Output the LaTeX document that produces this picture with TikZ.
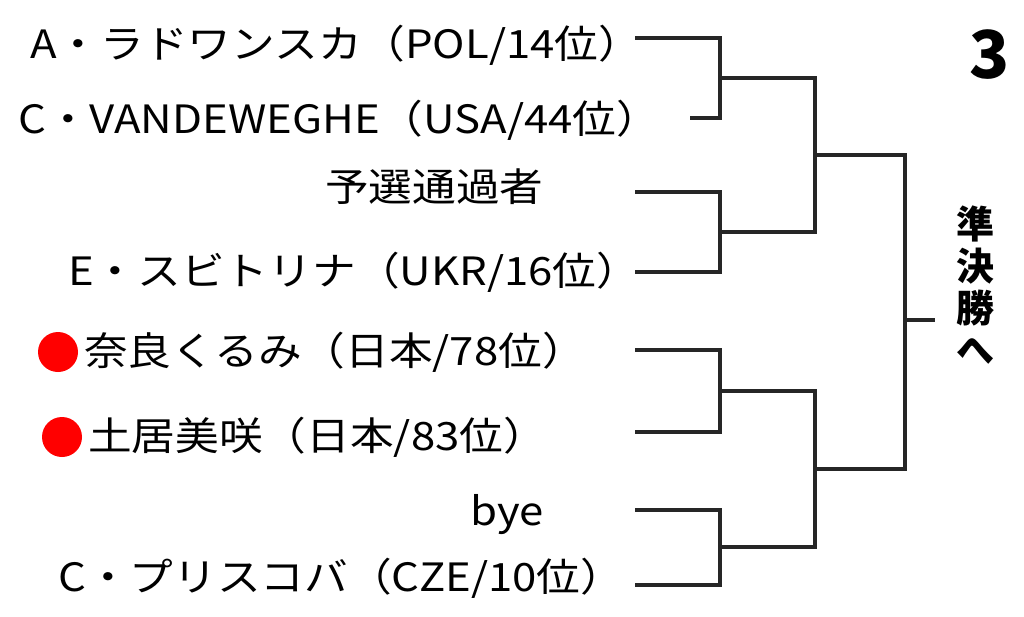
\documentclass[tikz,border=0pt]{standalone}
\usepackage{fontspec}
\setmainfont{Noto Sans CJK JP}
\begin{document}
\begin{tikzpicture}[x=1pt,y=-1pt,
 lbl/.style={anchor=west,font=\fontsize{39}{40}\selectfont,inner sep=0pt,xscale=1.12},
 br/.style={line width=3.5pt,black!85}]
\useasboundingbox (0,0) rectangle (1024,616);
\node[lbl] (t1) at (30,45) {A・ラドワンスカ（POL/14位）};
\node[lbl] (t2) at (18,120) {C・VANDEWEGHE（USA/44位）};
\node[lbl] (t3) at (325,187) {予選通過者};
\node[lbl] (t4) at (68,272) {E・スビトリナ（UKR/16位）};
\node[lbl] (t5) at (84,352) {奈良くるみ（日本/78位）};
\node[lbl] (t6) at (88,437) {土居美咲（日本/83位）};
\node[lbl] (t7) at (470,515) {bye};
\node[lbl] (t8) at (58,578) {C・プリスコバ（CZE/10位）};
\fill[red] (58,352) circle (20) node (d1){};
\fill[red] (62,437) circle (20) node (d2){};
\node[font=\fontsize{66}{66}\selectfont\bfseries] (n3) at (990,55) {3};
\node[font=\fontsize{38}{42}\selectfont\bfseries,align=center] (sf) at (975,285) {準\\決\\勝\\へ};
\coordinate (a1) at (635,38); \coordinate (a2) at (690,118);
\coordinate (a3) at (635,192); \coordinate (a4) at (635,272);
\coordinate (a5) at (635,350); \coordinate (a6) at (635,432);
\coordinate (a7) at (635,510); \coordinate (a8) at (635,585);
\draw[br] (a1) -| (720,118) -- (a2);
\draw[br] (a3) -| (720,272) -- (a4);
\draw[br] (a5) -| (720,432) -- (a6);
\draw[br] (a7) -| (720,585) -- (a8);
\draw[br] (720,78) -| (815,232) -- (720,232);
\draw[br] (720,391) -| (815,547) -- (720,547);
\draw[br] (815,155) -| (905,469) -- (815,469);
\draw[br] (905,320) -- (935,320);
\end{tikzpicture}
\end{document}
